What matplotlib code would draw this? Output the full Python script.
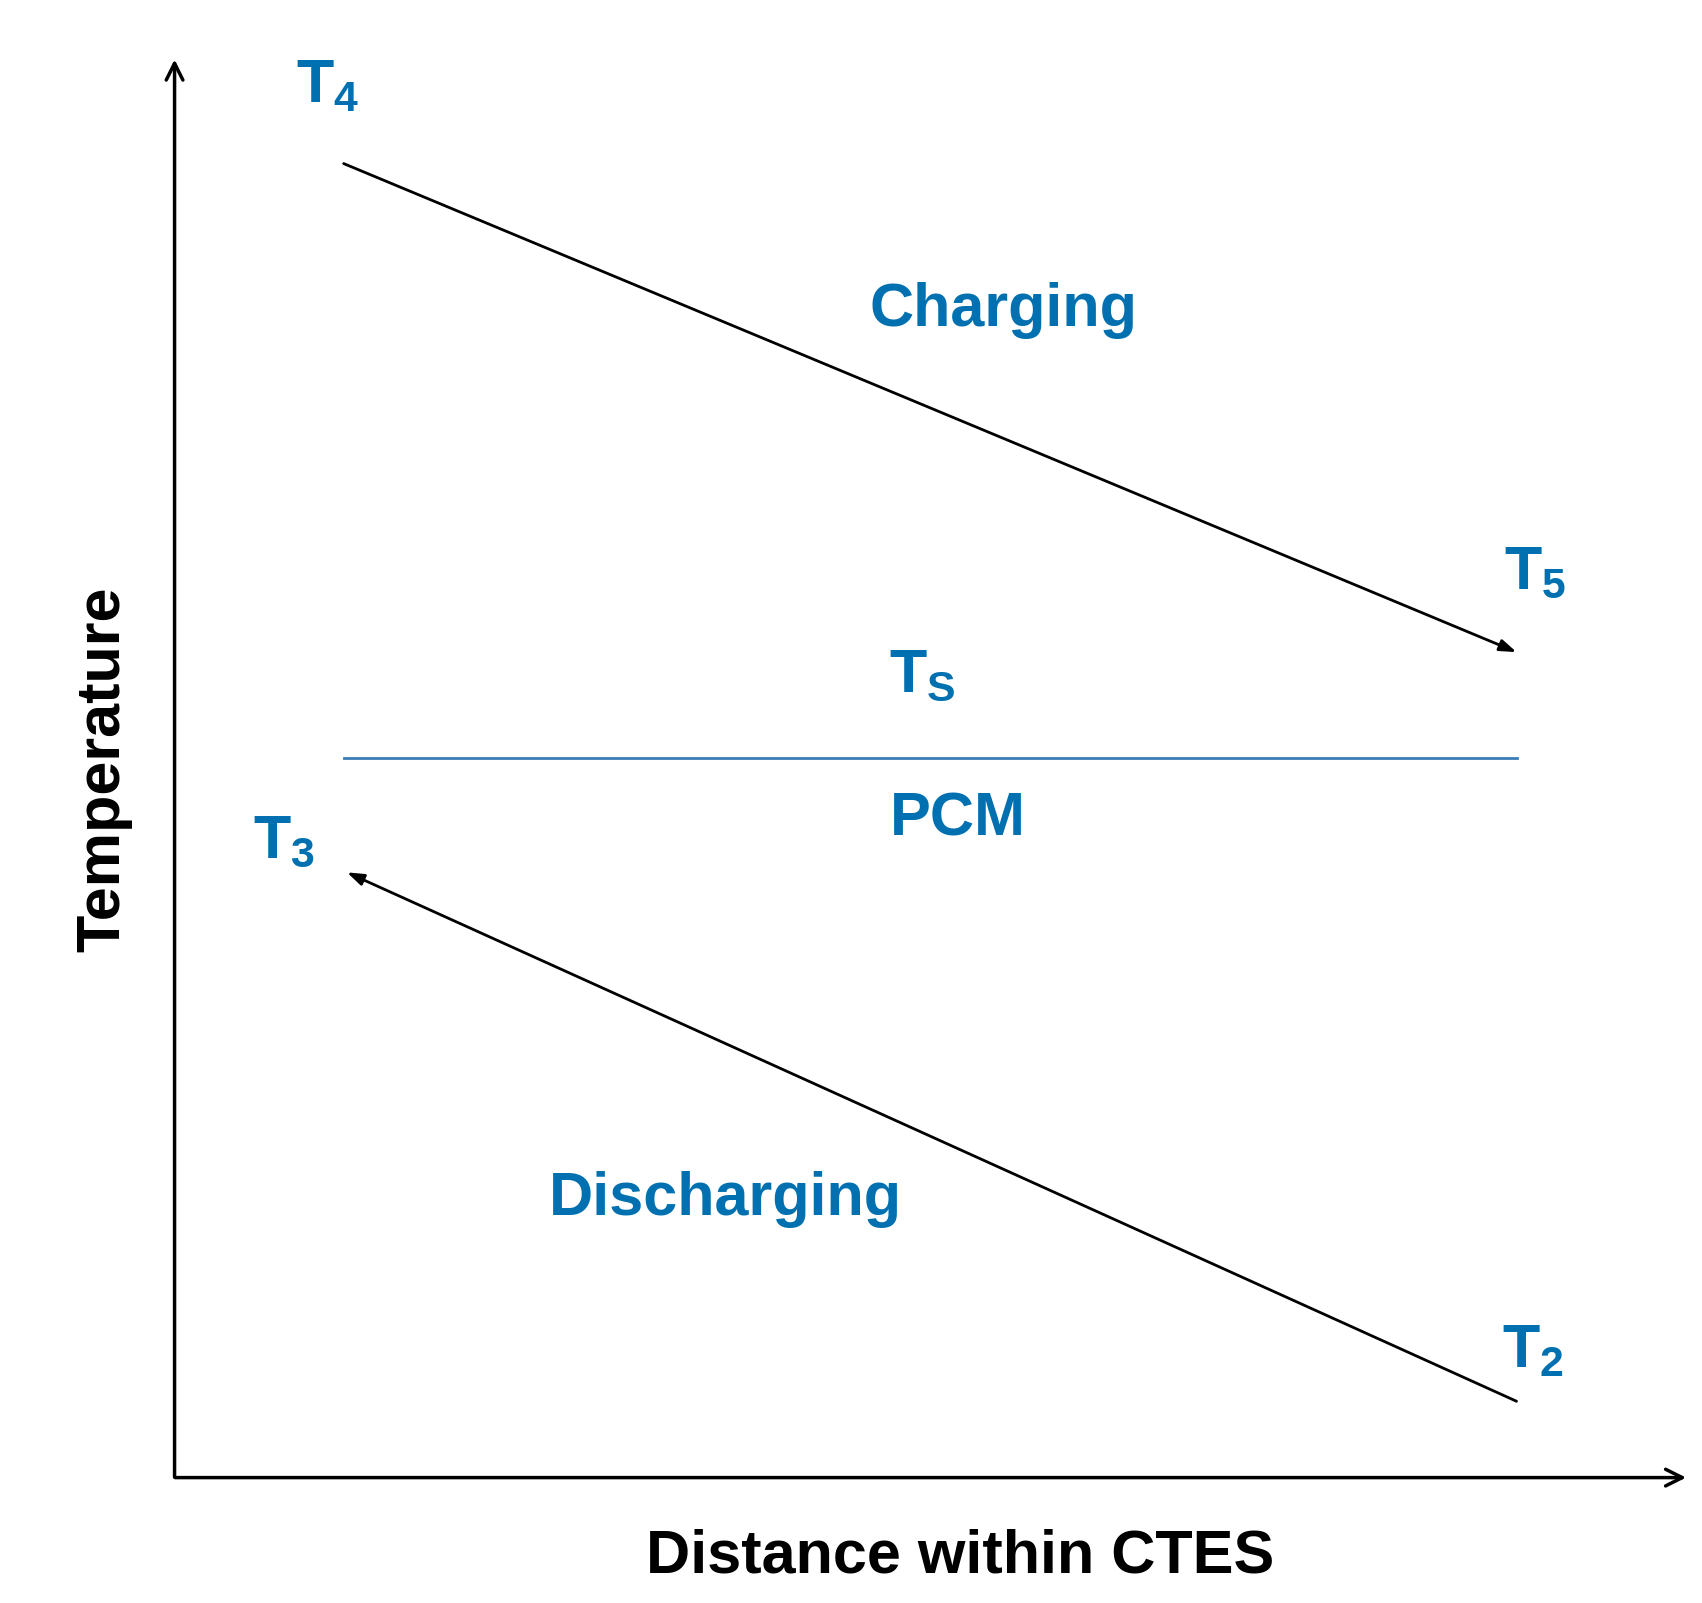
import matplotlib.pyplot as plt

W, H = 1560, 1470
blue = '#0070B0'
# line segments (display-space estimates, y downward)
charge_x = [315, 1390]; charge_y = [150, 598]
disch_x = [1390, 318]; disch_y = [1285, 800]
ts_x = [315, 1390]; ts_y = [695, 695]
labels = [("T$_4$", 300, 80), ("Charging", 920, 285), ("T$_5$", 1407, 525),
          ("T$_\\mathrm{S}$", 845, 620), ("PCM", 878, 752), ("T$_3$", 260, 772),
          ("Discharging", 665, 1100), ("T$_2$", 1405, 1240)]

fig = plt.figure(figsize=(17.02, 16.03), dpi=100)
ax = fig.add_axes([0, 0, 1, 1])
ax.set_xlim(0, W); ax.set_ylim(H, 0); ax.axis('off')
plt.rcParams['mathtext.fontset'] = 'custom'
plt.rcParams['mathtext.rm'] = 'Liberation Sans:bold'
plt.rcParams['mathtext.it'] = 'Liberation Sans:bold'

ax.annotate('', xy=(160, 52), xytext=(160, 1357),
            arrowprops=dict(arrowstyle='->,head_length=1.2,head_width=0.6', lw=2.5, color='black'))
ax.annotate('', xy=(1548, 1355), xytext=(158, 1355),
            arrowprops=dict(arrowstyle='->,head_length=1.2,head_width=0.6', lw=2.5, color='black'))
ax.annotate('', xy=(charge_x[1], charge_y[1]), xytext=(charge_x[0], charge_y[0]),
            arrowprops=dict(arrowstyle='-|>,head_length=1.0,head_width=0.35', lw=2, color='black', shrinkA=0, shrinkB=0))
ax.annotate('', xy=(disch_x[1], disch_y[1]), xytext=(disch_x[0], disch_y[0]),
            arrowprops=dict(arrowstyle='-|>,head_length=1.0,head_width=0.35', lw=2, color='black', shrinkA=0, shrinkB=0))
ax.plot(ts_x, ts_y, color='#3A7DB5', lw=2)

for t, x, y in labels:
    ax.text(x, y, t, color=blue, fontsize=44, fontweight='bold', family='Liberation Sans',
            ha='center', va='center')
ax.text(95, 705, "Temperature", rotation=90, fontsize=44, fontweight='bold',
        family='Liberation Sans', ha='center', va='center')
ax.text(880, 1428, "Distance within CTES", fontsize=44, fontweight='bold',
        family='Liberation Sans', ha='center', va='center')
fig.savefig('out.png', dpi=100, facecolor='white')
